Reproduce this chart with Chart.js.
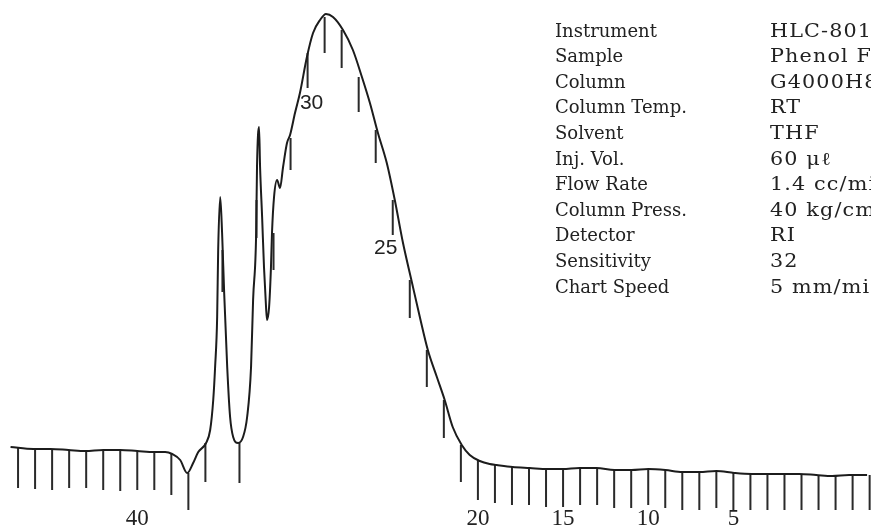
<!DOCTYPE html>
<html>
<head>
<meta charset="utf-8">
<script src="https://cdn.jsdelivr.net/npm/chart.js@4/dist/chart.umd.min.js"></script>
<style>
  html, body { margin: 0; padding: 0; background: #fff; }
  #wrap { width: 871px; height: 531px; position: relative; }
</style>
</head>
<body>
<div id="wrap"><canvas id="gpc"></canvas></div>
<script>
// elution count (reversed axis) and detector response
const counts = [47.44, 46.10, 45.10, 44.04, 43.05, 41.99, 41.00, 40.00, 39.00, 38.36, 37.95, 37.48, 37.07, 36.72, 36.42,
  35.96, 35.72, 35.54, 35.43, 35.31, 35.25, 35.13, 35.02, 34.90, 34.72, 34.55, 34.37, 34.08, 33.79, 33.55, 33.32,
  33.20, 33.02, 32.97, 32.85, 32.79, 32.67, 32.56, 32.44, 32.38, 32.26, 32.15, 32.09, 31.97, 31.79, 31.62, 31.44,
  31.21, 31.03, 30.74, 30.45, 30.04, 29.68, 29.27, 28.92, 28.51, 27.92, 27.34, 26.81, 26.34, 25.87, 25.35, 24.88,
  24.41, 23.88, 23.41, 22.94, 22.41, 21.95, 21.48, 20.95, 20.48, 19.89, 19.31, 18.90, 17.96, 16.96, 15.91, 15.03,
  14.03, 13.04, 11.98, 10.98, 9.99, 8.99, 8.00, 7.00, 6.00, 4.95, 3.95, 3.07, 2.13, 1.14, 0.14, -0.80, -1.79, -2.85]
const response = [23, 21, 21, 20, 19, 20, 20, 19, 18, 18, 16, 10, -3, 7, 18,
  27, 40, 70, 103, 153, 220, 273, 237, 178, 103, 53, 33, 27, 33, 53, 103,
  170, 237, 303, 343, 303, 253, 203, 163, 150, 163, 203, 237, 273, 290, 282, 303,
  327, 335, 357, 377, 413, 437, 450, 456, 453, 440, 420, 393, 367, 337, 307, 270,
  228, 188, 153, 120, 93, 70, 43, 25, 15, 9, 6, 5, 3, 2, 1, 1,
  2, 2, 0, 0, 1, 0, -2, -2, -1, -3, -4, -4, -4, -4, -5, -6, -5, -5]

// count marks hanging from the pen trace
const markCounts = [47, 46, 45, 44, 43, 42, 41, 40, 39, 38, 37, 36, 35, 34, 33, 32, 31, 30, 29, 28, 27, 26, 25,
  24, 23, 22, 21, 20, 19, 18, 17, 16, 15, 14, 13, 12, 11, 10, 9, 8, 7, 6, 5, 4, 3, 2, 1, 0, -1, -2, -3]
const markTop = [22, 21, 21, 20, 19, 20, 20, 19, 18, 16, -3, 27, 220, 27, 270, 237, 332, 417, 453, 440, 393, 340, 270,
  190, 120, 70, 25, 9, 5, 3, 2, 1, 1, 2, 2, 0, 0, 1, 0, -2, -2, -1, -3, -4, -4, -4, -4, -5, -6, -5, -5]
const markBottom = [-18, -19, -20, -18, -18, -20, -21, -20, -20, -25, -40, -12, 178, -13, 232, 200, 300, 382, 417, 402, 358, 307, 235,
  152, 83, 32, -12, -30, -33, -35, -35, -37, -37, -35, -35, -38, -38, -35, -38, -40, -40, -38, -40, -40, -40, -40, -40, -40, -40, -40, -40]

const axisLabels = [40, 20, 15, 10, 5]
const curveLabels = [30, 25]

const infoKeys = ['Instrument', 'Sample', 'Column', 'Column Temp.', 'Solvent', 'Inj. Vol.', 'Flow Rate',
  'Column Press.', 'Detector', 'Sensitivity', 'Chart Speed']
const infoValues = ['HLC-801A', 'Phenol Formaldehyde Resin', 'G4000H8', 'RT', 'THF', '60 \u03bc\u2113', '1.4 cc/min',
  '40 kg/cm\u00b2', 'RI', '32', '5 mm/min']

const trace = counts.map((c, i) => ({ x: c, y: response[i] }))

// each mark is a short vertical segment; null breaks the line between marks
const marks = []
markCounts.forEach((c, i) => {
  marks.push({ x: c, y: markTop[i] }, { x: c, y: markBottom[i] }, { x: c, y: null })
})

const textPlugin = {
  id: 'chartText',
  afterDatasetsDraw(chart) {
    const { ctx, scales: { x, y } } = chart
    ctx.save()
    ctx.fillStyle = '#222'
    ctx.textBaseline = 'middle'

    ctx.font = '23px "Liberation Serif", serif'
    ctx.textAlign = 'center'
    axisLabels.forEach(v => ctx.fillText(String(v), x.getPixelForValue(v), 519))

    ctx.font = '21px "Liberation Sans", sans-serif'
    const i30 = markCounts.indexOf(curveLabels[0])
    ctx.fillText(String(curveLabels[0]), x.getPixelForValue(curveLabels[0]) + 4, y.getPixelForValue(markBottom[i30]) + 15)
    const i25 = markCounts.indexOf(curveLabels[1])
    ctx.fillText(String(curveLabels[1]), x.getPixelForValue(curveLabels[1]) - 7, y.getPixelForValue(markBottom[i25]) + 13)

    ctx.font = '18px "DejaVu Serif", serif'
    ctx.textAlign = 'left'
    infoKeys.forEach((k, i) => {
      const ty = 32 + i * 25.6
      ctx.fillText(k, 555, ty)
      // the value column is set in a wider face on the original sheet
      ctx.save()
      ctx.translate(770, ty)
      ctx.scale(1.15, 1)
      ctx.letterSpacing = '1px'
      ctx.fillText(infoValues[i], 0, 0)
      ctx.restore()
    })
    ctx.restore()
  }
}

new Chart(document.getElementById('gpc'), {
  type: 'line',
  data: {
    datasets: [
      {
        label: 'RI response',
        data: trace,
        borderColor: '#1c1c1c',
        borderWidth: 2,
        pointRadius: 0,
        cubicInterpolationMode: 'monotone',
        fill: false
      },
      {
        label: 'count marks',
        data: marks,
        borderColor: '#2a2a2a',
        borderWidth: 2,
        pointRadius: 0,
        spanGaps: false,
        tension: 0,
        fill: false
      }
    ]
  },
  options: {
    responsive: true,
    maintainAspectRatio: false,
    animation: false,
    layout: { padding: 0 },
    plugins: {
      legend: { display: false },
      tooltip: { enabled: false }
    },
    scales: {
      x: { type: 'linear', reverse: true, min: -3.08, max: 48.06, display: false },
      y: { type: 'linear', min: -61, max: 470, display: false }
    }
  },
  plugins: [textPlugin]
})
</script>
</body>
</html>
